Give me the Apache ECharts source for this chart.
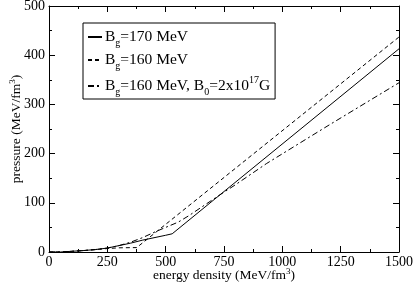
<!DOCTYPE html>
<html>
<head>
<meta charset="utf-8">
<script src="https://cdn.jsdelivr.net/npm/echarts@6/dist/echarts.min.js"></script>
<style>html,body{margin:0;padding:0;background:#fff}#c{width:415px;height:289px}</style>
</head>
<body>
<div id="c"></div>
<script>
// Bg = 170 MeV (solid)
var solidX = [0, 50, 100, 150, 200, 250, 300, 350, 400, 450, 500, 528, 1500];
var solidY = [0, 0, 1.5, 3, 5, 8, 13, 18, 24, 29, 34, 37, 413];
// Bg = 160 MeV (dashed)
var dashX = [0, 50, 100, 150, 200, 250, 300, 376, 1500];
var dashY = [0, 0, 1.5, 3, 5, 7, 8.5, 9, 437];
// Bg = 160 MeV, B0 = 2x10^17 G (dash-dot)
var ddX = [0, 50, 100, 150, 200, 250, 300, 350, 400, 455, 500, 555, 600, 719, 800, 933, 1200, 1500];
var ddY = [0, 0, 1.5, 3, 5, 8, 13, 20, 29, 41, 50, 61, 74, 112, 137, 180, 258, 344];
var xTicks = [0, 250, 500, 750, 1000, 1250, 1500];
var yTicks = [0, 100, 200, 300, 400, 500];
var names = ['s1', 's2', 's3'];

function pairs(xs, ys) { return xs.map(function (x, i) { return [x, ys[i]]; }); }

var FONT = 'Liberation Serif';
var FS = 14;
var richLegend = {
  sub: { fontSize: 10, fontFamily: FONT, color: '#000', verticalAlign: 'bottom', lineHeight: 22 },
  sup: { fontSize: 10, fontFamily: FONT, color: '#000', verticalAlign: 'top', lineHeight: 22 },
  n: { fontSize: 15.5, fontFamily: FONT, color: '#000', lineHeight: 22 }
};
var richAxis = {
  sup: { fontSize: 9, fontFamily: FONT, color: '#000', verticalAlign: 'top', lineHeight: 16 },
  n: { fontSize: 13.5, fontFamily: FONT, color: '#000', lineHeight: 16 }
};
var legendLabels = {
  s1: '{n|B}{sub|g}{n|=170 MeV}',
  s2: '{n|B}{sub|g}{n|=160 MeV}',
  s3: '{n|B}{sub|g}{n|=160 MeV, B}{sub|0}{n|=2x10}{sup|17}{n|G}'
};

function axisCommon() {
  return {
    axisLine: { show: true, onZero: false, lineStyle: { color: '#000', width: 1 } },
    axisTick: { show: true, inside: true, length: 6, lineStyle: { color: '#000' } },
    minorTick: { show: true, splitNumber: 2, length: 3, lineStyle: { color: '#000' } },
    splitLine: { show: false },
    minorSplitLine: { show: false }
  };
}

var chart = echarts.init(document.getElementById('c'));
var option = {
  animation: false,
  backgroundColor: '#fff',
  grid: { left: 49, right: 16, top: 6, bottom: 37, outerBoundsMode: 'none', containLabel: false },
  legend: {
    orient: 'vertical',
    left: 83, top: 23,
    padding: [6, 5, 2, 4],
    itemGap: 4,
    itemWidth: 14, itemHeight: 10,
    borderColor: '#000', borderWidth: 1,
    data: names,
    itemStyle: { opacity: 0 },
    formatter: function (n) { return legendLabels[n]; },
    textStyle: { rich: richLegend, fontFamily: FONT, fontSize: 15.5, color: '#000', padding: [0, 0, 0, -2] }
  },
  xAxis: [
    Object.assign({
      type: 'value', min: 0, max: 1500, interval: 250, position: 'bottom',
      name: '{n|energy density (MeV/fm}{sup|3}{n|)}', nameLocation: 'middle', nameGap: 15,
      nameMoveOverlap: false,
      nameTextStyle: { fontFamily: FONT, fontSize: 13.5, color: '#000', rich: richAxis },
      axisLabel: { fontFamily: FONT, fontSize: FS, color: '#000', margin: 3,
        formatter: function (v) { return xTicks.indexOf(v) >= 0 ? String(v) : ''; } }
    }, axisCommon()),
    Object.assign({
      type: 'value', min: 0, max: 1500, interval: 250, position: 'top',
      axisLabel: { show: false }
    }, axisCommon())
  ],
  yAxis: [
    Object.assign({
      type: 'value', min: 0, max: 500, interval: 100, position: 'left',
      name: '{n|pressure (MeV/fm}{sup|3}{n|)}', nameLocation: 'middle', nameGap: 25,
      nameMoveOverlap: false,
      nameTextStyle: { fontFamily: FONT, fontSize: 13.5, color: '#000', rich: richAxis },
      axisLabel: { fontFamily: FONT, fontSize: FS, color: '#000', margin: 4,
        formatter: function (v) { return yTicks.indexOf(v) >= 0 ? String(v) : ''; } }
    }, axisCommon()),
    Object.assign({
      type: 'value', min: 0, max: 500, interval: 100, position: 'right',
      axisLabel: { show: false }
    }, axisCommon())
  ],
  series: [
    { name: 's1', type: 'line', data: pairs(solidX, solidY), symbol: 'none',
      lineStyle: { color: '#000', width: 1, type: 'solid' }, itemStyle: { color: '#000' } },
    { name: 's2', type: 'line', data: pairs(dashX, dashY), symbol: 'none',
      lineStyle: { color: '#000', width: 1, type: [4, 3] }, itemStyle: { color: '#000' } },
    { name: 's3', type: 'line', data: pairs(ddX, ddY), symbol: 'none',
      lineStyle: { color: '#000', width: 1, type: [6, 3, 2, 3] }, itemStyle: { color: '#000' } }
  ]
};
chart.setOption(option);
</script>
</body>
</html>
